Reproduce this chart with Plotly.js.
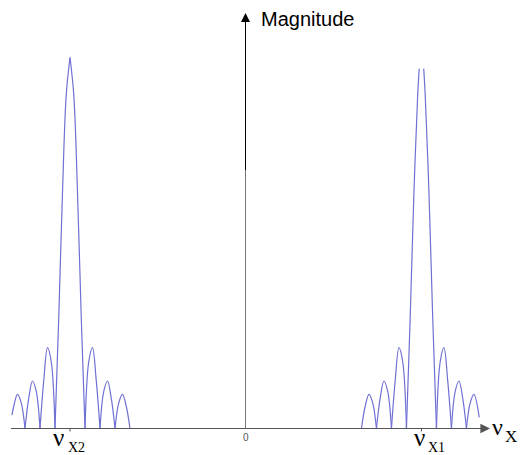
<!DOCTYPE html>
<html>
<head>
<meta charset="utf-8">
<script src="https://cdn.plot.ly/plotly-3.0.1.min.js"></script>
<style>html,body{margin:0;padding:0;background:#fff;}#chart{width:520px;height:455px;}</style>
</head>
<body>
<div id="chart"></div>
<script>
// ---- data (frequency in lobe-width units, magnitude normalised to main peak) ----
const peakNames = ['νX2', 'νX1'];
const peakCenters = [-11.7, 11.73];

// left peak (νX2): null separates lobes so each arch meets the axis in a cusp
const x2Offsets = [-3.87, -3.75, -3.5, -3.25, -3, null,
  -3, -2.75, -2.5, -2.25, -2, null,
  -2, -1.75, -1.5, -1.25, -1, null,
  -1, -0.75, -0.5, -0.25, 0, null,
  0, 0.25, 0.5, 0.75, 1, null,
  1, 1.25, 1.5, 1.75, 2, null,
  2, 2.25, 2.5, 2.75, 3, null,
  3, 3.25, 3.5, 3.75, 4];
const x2Mag = [0.036, 0.060, 0.092, 0.069, 0, null,
  0, 0.082, 0.128, 0.100, 0, null,
  0, 0.129, 0.218, 0.180, 0, null,
  0, 0.300, 0.637, 0.900, 1.0, null,
  1.0, 0.900, 0.637, 0.300, 0, null,
  0, 0.180, 0.218, 0.129, 0, null,
  0, 0.100, 0.128, 0.082, 0, null,
  0, 0.069, 0.092, 0.060, 0];

// right peak (νX1): apex not drawn
const x1Offsets = [-4, -3.75, -3.5, -3.25, -3, null,
  -3, -2.75, -2.5, -2.25, -2, null,
  -2, -1.75, -1.5, -1.25, -1, null,
  -1, -0.75, -0.5, -0.25, -0.15, null,
  0.15, 0.25, 0.5, 0.75, 1, null,
  1, 1.25, 1.5, 1.75, 2, null,
  2, 2.25, 2.5, 2.75, 3, null,
  3, 3.25, 3.5, 3.85];
const x1Mag = [0, 0.060, 0.092, 0.069, 0, null,
  0, 0.082, 0.128, 0.100, 0, null,
  0, 0.129, 0.218, 0.180, 0, null,
  0, 0.300, 0.637, 0.900, 0.970, null,
  0.970, 0.900, 0.637, 0.300, 0, null,
  0, 0.180, 0.218, 0.129, 0, null,
  0, 0.100, 0.128, 0.082, 0, null,
  0, 0.069, 0.092, 0.030];

// ---- build traces ----
function shift(offs, c) { return offs.map(v => v === null ? null : c + v); }
const curveColor = '#7070d4';
const traces = [
  {x: shift(x2Offsets, peakCenters[0]), y: x2Mag, name: peakNames[0]},
  {x: shift(x1Offsets, peakCenters[1]), y: x1Mag, name: peakNames[1]}
].map(t => Object.assign(t, {
  type: 'scatter', mode: 'lines', connectgaps: false,
  line: {color: curveColor, width: 1.2, shape: 'spline', smoothing: 1},
  hoverinfo: 'skip', showlegend: false
}));

// ---- geometry helpers (paper coords from pixel positions) ----
const W = 520, H = 455;
const px = x => x / W;
const py = y => 1 - y / H;
const zeroPx = 245.5, unitPx = 15, axisPy = 428.5, peakPx = 371;
const xRange = [-zeroPx / unitPx, (W - zeroPx) / unitPx];
const yRange = [-(H - axisPy) / peakPx, axisPy / peakPx];

const serif = 'Liberation Serif, Times New Roman, serif';
const sans = 'Liberation Sans, Arial, sans-serif';
function txt(text, x, y, size, family, color, xanchor) {
  return {text: text, xref: 'paper', yref: 'paper', x: px(x), y: py(y),
    xanchor: xanchor || 'left', yanchor: 'middle', showarrow: false,
    font: {family: family, size: size, color: color || '#000'}};
}

const annotations = [
  // x axis arrow head
  {xref: 'paper', yref: 'paper', x: px(490), y: py(axisPy), ax: -30, ay: 0,
    text: '', showarrow: true, arrowhead: 2, arrowsize: 1.6, arrowwidth: 1.2,
    arrowcolor: '#555', standoff: 0},
  // y axis arrow head
  {xref: 'paper', yref: 'paper', x: px(zeroPx), y: py(13), ax: 0, ay: 30,
    text: '', showarrow: true, arrowhead: 2, arrowsize: 1.8, arrowwidth: 1,
    arrowcolor: '#000', standoff: 0},
  txt('Magnitude', 259, 19, 20, sans, '#000'),
  txt('0', zeroPx, 437.5, 10, sans, '#555', 'center'),
  txt('ν', 51, 437, 25, serif),
  txt('X2', 66, 447, 14, serif),
  txt('ν', 412, 437, 25, serif),
  txt('X1', 426, 447, 14, serif),
  txt('ν', 490, 427, 24, serif),
  txt('X', 503, 436, 17, serif)
];

const shapes = [
  // horizontal axis line
  {type: 'line', xref: 'paper', yref: 'paper', x0: px(11), x1: px(484),
    y0: py(axisPy), y1: py(axisPy), line: {color: '#555', width: 1.2}},
  // upper black part of the vertical axis
  {type: 'line', xref: 'paper', yref: 'paper', x0: px(zeroPx), x1: px(zeroPx),
    y0: py(20), y1: py(170), line: {color: '#000', width: 1}},
  // lower grey part of the vertical axis
  {type: 'line', xref: 'paper', yref: 'paper', x0: px(zeroPx), x1: px(zeroPx),
    y0: py(170), y1: py(axisPy), line: {color: '#777', width: 1}},
  // small ticks at the peak centres
  {type: 'line', xref: 'x', yref: 'paper', x0: peakCenters[0], x1: peakCenters[0],
    y0: py(axisPy), y1: py(axisPy + 3), line: {color: '#555', width: 1}},
  {type: 'line', xref: 'x', yref: 'paper', x0: peakCenters[1], x1: peakCenters[1],
    y0: py(axisPy), y1: py(axisPy + 3), line: {color: '#555', width: 1}}
];

const layout = {
  width: W, height: H,
  margin: {l: 0, r: 0, t: 0, b: 0, pad: 0},
  paper_bgcolor: '#fff', plot_bgcolor: '#fff',
  xaxis: {range: xRange, visible: false, fixedrange: true},
  yaxis: {range: yRange, visible: false, fixedrange: true},
  showlegend: false,
  annotations: annotations,
  shapes: shapes
};

Plotly.newPlot('chart', traces, layout, {staticPlot: true, displayModeBar: false});
</script>
</body>
</html>
